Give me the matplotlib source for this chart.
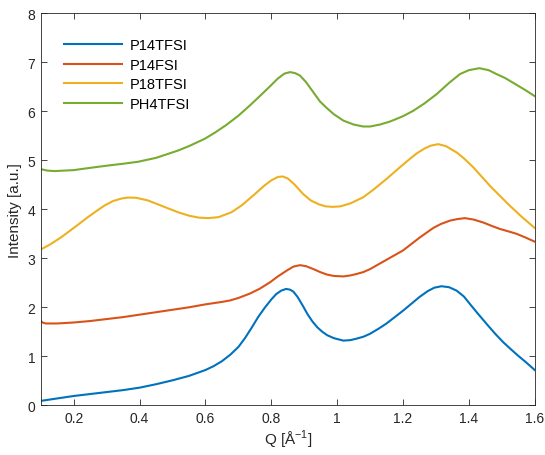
import numpy as np
import matplotlib
matplotlib.use("Agg")
import matplotlib.pyplot as plt

plt.rcParams['font.family'] = ['Liberation Sans', 'DejaVu Sans']

# P14TFSI
q_p14tfsi = [0.10, 0.15, 0.20, 0.25, 0.30, 0.35, 0.40, 0.45, 0.50, 0.55, 0.60, 0.625,
             0.65, 0.675, 0.70, 0.72, 0.74, 0.76, 0.78, 0.80, 0.815, 0.83, 0.845,
             0.857, 0.867, 0.88, 0.895, 0.91, 0.925, 0.94, 0.955, 0.97, 0.99, 1.019,
             1.04, 1.059, 1.08, 1.10, 1.125, 1.15, 1.175, 1.20, 1.225, 1.25, 1.275,
             1.295, 1.317, 1.34, 1.363, 1.385, 1.403, 1.425, 1.454, 1.48, 1.504, 1.525,
             1.55, 1.575, 1.60]
i_p14tfsi = [0.09, 0.14, 0.19, 0.23, 0.27, 0.31, 0.36, 0.43, 0.51, 0.60, 0.72, 0.80,
             0.90, 1.03, 1.19, 1.37, 1.58, 1.80, 1.99, 2.16, 2.27, 2.34, 2.375,
             2.36, 2.32, 2.21, 2.04, 1.86, 1.71, 1.59, 1.50, 1.43, 1.37, 1.32,
             1.33, 1.36, 1.40, 1.46, 1.56, 1.67, 1.80, 1.93, 2.07, 2.21, 2.33,
             2.40, 2.43, 2.41, 2.34, 2.22, 2.07, 1.89, 1.66, 1.46, 1.29, 1.16,
             1.01, 0.87, 0.72]

# P14FSI
q_p14fsi = [0.10, 0.105, 0.115, 0.15, 0.20, 0.25, 0.30, 0.35, 0.40, 0.45, 0.50, 0.55,
            0.60, 0.65, 0.675, 0.70, 0.735, 0.765, 0.796, 0.82, 0.847, 0.867, 0.887,
            0.905, 0.928, 0.948, 0.968, 0.99, 1.019, 1.04, 1.059, 1.08, 1.10, 1.15,
            1.20, 1.25, 1.292, 1.315, 1.343, 1.365, 1.388, 1.415, 1.444,
            1.47, 1.494, 1.52, 1.545, 1.57, 1.60]
i_p14fsi = [1.72, 1.69, 1.67, 1.67, 1.69, 1.72, 1.76, 1.80, 1.85, 1.90, 1.95, 2.00,
            2.06, 2.11, 2.14, 2.19, 2.28, 2.38, 2.51, 2.63, 2.75, 2.83, 2.86,
            2.84, 2.78, 2.72, 2.67, 2.64, 2.63, 2.65, 2.68, 2.72, 2.78, 2.97,
            3.16, 3.42, 3.62, 3.70, 3.77, 3.80, 3.82, 3.79, 3.73,
            3.66, 3.60, 3.55, 3.50, 3.43, 3.34]

# P18TFSI
q_p18tfsi = [0.10, 0.13, 0.162, 0.20, 0.243, 0.27, 0.294, 0.32, 0.345, 0.365, 0.39,
             0.4255, 0.46, 0.49, 0.517, 0.55, 0.58, 0.608, 0.64, 0.679, 0.71, 0.75,
             0.78, 0.80, 0.82, 0.835, 0.85, 0.87, 0.897, 0.92, 0.945, 0.965, 0.988,
             1.01, 1.04, 1.079, 1.11, 1.15, 1.191, 1.221, 1.2415, 1.265, 1.285, 1.307,
             1.33, 1.363, 1.385, 1.413, 1.44, 1.464, 1.495, 1.525, 1.56, 1.60]
i_p18tfsi = [3.18, 3.29, 3.43, 3.62, 3.84, 3.97, 4.08, 4.17, 4.22, 4.24, 4.235,
             4.18, 4.09, 4.01, 3.94, 3.87, 3.83, 3.82, 3.84, 3.94, 4.08, 4.31,
             4.49, 4.59, 4.66, 4.67, 4.63, 4.51, 4.31, 4.18, 4.10, 4.06, 4.05,
             4.06, 4.12, 4.245, 4.40, 4.62, 4.86, 5.03, 5.14, 5.24, 5.30, 5.33,
             5.29, 5.16, 5.04, 4.86, 4.66, 4.48, 4.27, 4.07, 3.85, 3.62]

# PH4TFSI
q_ph4tfsi = [0.10, 0.12, 0.142, 0.20, 0.243, 0.30, 0.35, 0.395, 0.45, 0.517, 0.55,
             0.598, 0.63, 0.663, 0.70, 0.735, 0.765, 0.796, 0.82, 0.84, 0.857, 0.872,
             0.887, 0.905, 0.9276, 0.948, 0.968, 0.99, 1.019, 1.05, 1.079, 1.10, 1.13,
             1.16, 1.20, 1.231, 1.265, 1.302, 1.34, 1.373, 1.40, 1.432, 1.46, 1.484,
             1.51, 1.54, 1.57, 1.60]
i_ph4tfsi = [4.82, 4.79, 4.78, 4.80, 4.84, 4.89, 4.93, 4.97, 5.05, 5.20, 5.29,
             5.44, 5.57, 5.72, 5.91, 6.12, 6.31, 6.51, 6.67, 6.77, 6.80, 6.78,
             6.73, 6.60, 6.39, 6.20, 6.07, 5.94, 5.81, 5.73, 5.69, 5.69, 5.73,
             5.79, 5.90, 6.01, 6.16, 6.35, 6.58, 6.76, 6.84, 6.88, 6.84, 6.76,
             6.68, 6.56, 6.44, 6.31]

fig = plt.figure(figsize=(5.45, 4.56), dpi=100)
ax = fig.add_axes([0.0749, 0.109, 0.9062, 0.8596])

ax.plot(q_p14tfsi, i_p14tfsi, color='#0072BD', lw=1.5, label='P14TFSI')
ax.plot(q_p14fsi, i_p14fsi, color='#D95319', lw=1.5, label='P14FSI')
ax.plot(q_p18tfsi, i_p18tfsi, color='#EDB120', lw=1.5, label='P18TFSI')
ax.plot(q_ph4tfsi, i_ph4tfsi, color='#77AC30', lw=1.5, label='PH4TFSI')

ax.set_xlim(0.1, 1.6)
ax.set_ylim(0, 8)
ax.set_xticks([0.2, 0.4, 0.6, 0.8, 1.0, 1.2, 1.4, 1.6])
ax.set_xticklabels(['0.2', '0.4', '0.6', '0.8', '1', '1.2', '1.4', '1.6'])
ax.set_yticks(range(0, 9))

ax.tick_params(direction='in', top=True, right=True, length=4, width=0.6,
               colors='#262626', labelsize=10, pad=4)
for s in ax.spines.values():
    s.set_color('#262626')
    s.set_linewidth(0.6)

ax.set_xlabel('Q [Å$^{\\mathregular{-1}}$]', fontsize=11, color='#262626', labelpad=2)
ax.set_ylabel('Intensity [a.u.]', fontsize=11, color='#262626', labelpad=4)

ax.legend(loc='upper left', frameon=False, fontsize=10.5, handlelength=4.0,
          handletextpad=0.55, labelspacing=0.38, bbox_to_anchor=(0.02, 0.97))

fig.savefig('out.png', dpi=100)
